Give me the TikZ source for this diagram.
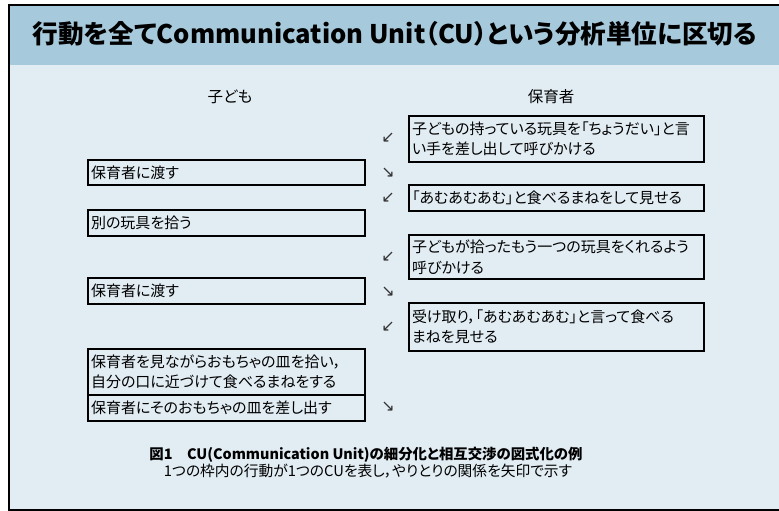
\documentclass[tikz,border=0pt]{standalone}
\usepackage{fontspec}
\usepackage{graphicx}
\setmainfont{Noto Sans CJK JP}[RawFeature=+palt]
\newfontfamily\arrowfont{DejaVu Sans}
\definecolor{band}{RGB}{166,201,219}
\definecolor{bodyc}{RGB}{225,236,243}
\begin{document}
\begin{tikzpicture}[x=1pt,y=-1pt,
  cubox/.style={draw, line width=1.5pt, anchor=north west, inner xsep=3pt, inner ysep=0pt, outer sep=0pt, align=left, font=\fontsize{15}{20.5}\selectfont},
  lbox/.style={cubox, text width=271pt, minimum width=277pt},
  rbox/.style={cubox, text width=289pt, minimum width=295pt},
  arr/.style={font=\arrowfont\fontsize{16}{16}\selectfont, text=black!80, inner sep=0pt},
  head/.style={font=\fontsize{15.5}{15.5}\selectfont, inner sep=0pt}]
\useasboundingbox (0,0) rectangle (779,511);
% frame
\fill[bodyc] (9,5) rectangle (779,510);
\fill[band] (9,5) rectangle (779,65);
\draw[line width=2.5pt] (779,5) -- (9,5) -- (9,510) -- (779,510);
% title
\node[inner sep=0pt] (title) at (395,34) {\resizebox{724pt}{!}{\bfseries\fontsize{24}{24}\selectfont 行動を全てCommunication Unit（CU）という分析単位に区切る}};
% headings
\node[head] (hc) at (230,97) {子ども};
\node[head] (hh) at (551,97) {保育者};
% child boxes
\node[lbox, minimum height=25pt] (c1) at (88,160) {保育者に渡す};
\node[lbox, minimum height=26pt] (c2) at (88,210) {別の玩具を拾う};
\node[lbox, minimum height=26pt] (c3) at (88,278) {保育者に渡す};
\node[lbox, minimum height=46pt] (c4) at (88,349) {保育者を見ながらおもちゃの皿を拾い，\\自分の口に近づけて食べるまねをする};
\node[lbox, minimum height=26pt] (c5) at (88,395) {保育者にそのおもちゃの皿を差し出す};
% caregiver boxes
\node[rbox, minimum height=46pt] (h1) at (409,116) {子どもの持っている玩具を「ちょうだい」と言\\い手を差し出して呼びかける};
\node[rbox, minimum height=26pt] (h2) at (409,185) {「あむあむあむ」と食べるまねをして見せる};
\node[rbox, minimum height=44pt] (h3) at (409,235) {子どもが拾ったもう一つの玩具をくれるよう\\呼びかける};
\node[rbox, minimum height=48pt] (h4) at (409,303) {受け取り，「あむあむあむ」と言って食べる\\まねを見せる};
% arrows
\node[arr] (a1) at (388,138) {↙};
\node[arr] (a2) at (388,173) {↘};
\node[arr] (a3) at (388,198) {↙};
\node[arr] (a4) at (388,257) {↙};
\node[arr] (a5) at (388,292) {↘};
\node[arr] (a6) at (388,327) {↙};
\node[arr] (a7) at (388,407) {↘};
% caption
\node[inner sep=0pt] (cap1) at (366,455) {\resizebox{433pt}{!}{\bfseries\fontsize{14}{14}\selectfont 図1　CU(Communication Unit)の細分化と相互交渉の図式化の例}};
\node[inner sep=0pt] (cap2) at (368,471) {\resizebox{408pt}{!}{\fontsize{14}{14}\selectfont 1つの枠内の行動が1つのCUを表し，やりとりの関係を矢印で示す}};
\end{tikzpicture}
\end{document}
